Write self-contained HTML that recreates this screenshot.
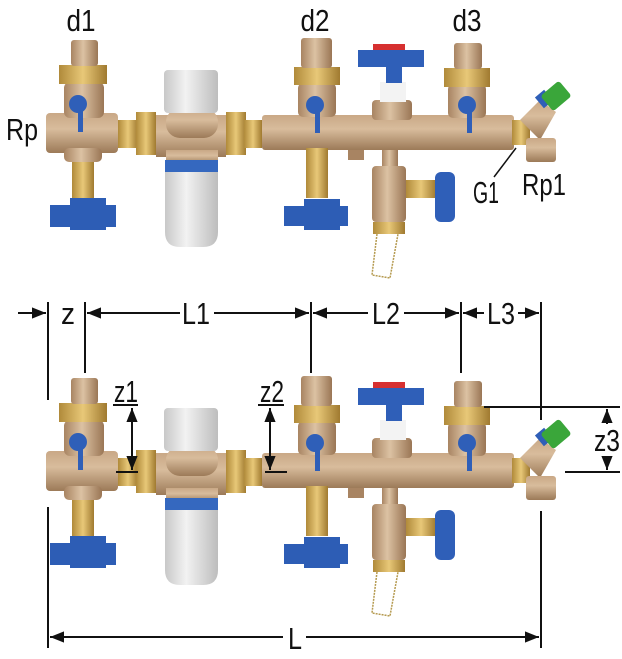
<!DOCTYPE html>
<html><head><meta charset="utf-8"><style>
html,body{margin:0;padding:0;background:#fff;width:622px;height:659px;overflow:hidden}
svg{display:block}
text{font-family:"Liberation Sans Narrow","Liberation Sans",sans-serif;fill:#111}
</style></head><body>
<svg width="622" height="659" viewBox="0 0 622 659" xmlns="http://www.w3.org/2000/svg">
<defs>
<linearGradient id="br" x1="0" y1="0" x2="0" y2="1"><stop offset="0" stop-color="#c9a886"/><stop offset=".4" stop-color="#d8bc9c"/><stop offset="1" stop-color="#9c7a58"/></linearGradient>
<linearGradient id="brv" x1="0" y1="0" x2="1" y2="0"><stop offset="0" stop-color="#a88462"/><stop offset=".45" stop-color="#dcc2a3"/><stop offset="1" stop-color="#9a7655"/></linearGradient>
<linearGradient id="gold" x1="0" y1="0" x2="1" y2="0"><stop offset="0" stop-color="#b08a3a"/><stop offset=".5" stop-color="#e8c878"/><stop offset="1" stop-color="#a07a30"/></linearGradient>
<linearGradient id="wh" x1="0" y1="0" x2="1" y2="0"><stop offset="0" stop-color="#c8c8c8"/><stop offset=".4" stop-color="#f2f2f2"/><stop offset="1" stop-color="#bdbdbd"/></linearGradient>
<marker id="a" viewBox="0 0 10 10" refX="10" refY="5" markerWidth="7" markerHeight="7" orient="auto-start-reverse"><path d="M0,1 L10,5 L0,9 z" fill="#111"/></marker>
<g id="asm">
 <rect x="72" y="155" width="22" height="45" fill="url(#gold)"/>
 <path d="M50 205 h20 v-7 h36 v7 h10 v22 h-10 v3 h-36 v-3 h-20z" fill="#2d5db5"/>
 <rect x="46" y="113" width="72" height="40" rx="4" fill="url(#br)"/>
 <rect x="64" y="82" width="40" height="36" rx="6" fill="url(#brv)"/>
 <rect x="64" y="148" width="38" height="14" rx="5" fill="url(#brv)"/>
 <rect x="59" y="65" width="48" height="19" fill="url(#gold)"/>
 <rect x="71" y="40" width="27" height="26" rx="3" fill="url(#brv)"/>
 <circle cx="78" cy="104" r="9" fill="#2f5fb8"/><rect x="78" y="110" width="5" height="22" fill="#2f5fb8"/>
 <rect x="118" y="120" width="20" height="28" fill="url(#gold)"/>
 <rect x="136" y="112" width="20" height="43" fill="url(#gold)"/>
 <rect x="156" y="115" width="70" height="42" fill="url(#br)"/>
 <rect x="166" y="108" width="52" height="30" rx="14" fill="url(#br)"/>
 <rect x="164" y="70" width="54" height="43" rx="4" fill="url(#wh)"/>
 <rect x="166" y="150" width="52" height="14" fill="url(#br)"/>
 <rect x="165" y="160" width="53" height="12" fill="#3568bf"/>
 <path d="M165 172 h53 v60 q0 15 -15 15 h-23 q-15 0 -15 -15z" fill="url(#wh)"/>
 <rect x="226" y="112" width="20" height="43" fill="url(#gold)"/>
 <rect x="244" y="120" width="18" height="28" fill="url(#gold)"/>
 <rect x="262" y="115" width="252" height="35" rx="3" fill="url(#br)"/>
 <rect x="348" y="150" width="16" height="10" fill="#a88462"/>
 <rect x="306" y="148" width="22" height="50" fill="url(#gold)"/>
 <path d="M284 206 h20 v-7 h36 v7 h8 v20 h-8 v4 h-36 v-4 h-20z" fill="#2d5db5"/>
 <rect x="298" y="83" width="38" height="34" rx="5" fill="url(#brv)"/>
 <rect x="294" y="67" width="46" height="18" fill="url(#gold)"/>
 <rect x="301" y="38" width="31" height="30" rx="3" fill="url(#brv)"/>
 <circle cx="315" cy="105" r="9" fill="#2f5fb8"/><rect x="315" y="111" width="5" height="22" fill="#2f5fb8"/>
 <rect x="372" y="100" width="40" height="20" rx="4" fill="url(#brv)"/>
 <rect x="380" y="82" width="26" height="20" fill="#f3f3f3"/>
 <rect x="386" y="65" width="16" height="18" fill="#2f5fb8"/>
 <rect x="373" y="44" width="32" height="6" fill="#d63030"/>
 <path d="M358 50 h66 v17 h-66z" fill="#2f5fb8"/>
 <rect x="382" y="150" width="16" height="18" fill="url(#brv)"/>
 <rect x="372" y="166" width="34" height="56" rx="4" fill="url(#brv)"/>
 <rect x="406" y="180" width="30" height="18" fill="url(#gold)"/>
 <rect x="435" y="172" width="20" height="50" rx="6" fill="#2f5fb8"/>
 <rect x="373" y="222" width="32" height="12" fill="url(#gold)"/>
 <path d="M377 234 L372 275 L390 278 L398 234" fill="none" stroke="#b59a50" stroke-width="1.5" stroke-dasharray="2 1"/>
 <rect x="448" y="84" width="38" height="34" rx="5" fill="url(#brv)"/>
 <rect x="444" y="68" width="46" height="19" fill="url(#gold)"/>
 <rect x="454" y="43" width="28" height="26" rx="3" fill="url(#brv)"/>
 <circle cx="467" cy="105" r="9" fill="#2f5fb8"/><rect x="467" y="111" width="5" height="22" fill="#2f5fb8"/>
 <rect x="512" y="120" width="18" height="25" fill="url(#gold)"/>
 <path d="M520 120 L540 100 L556 112 L540 140z" fill="url(#br)"/>
 <rect x="526" y="138" width="30" height="24" rx="3" fill="url(#br)"/>
 <rect x="538" y="92" width="12" height="14" fill="#2f5fb8" transform="rotate(-40 544 99)"/>
 <rect x="544" y="86" width="24" height="20" rx="3" fill="#3aa63a" transform="rotate(-40 556 96)"/>
</g>
</defs>

<use href="#asm"/>
<use href="#asm" y="338"/>

<g font-size="31" text-anchor="middle" lengthAdjust="spacingAndGlyphs">
<text x="81" y="31" textLength="29" lengthAdjust="spacingAndGlyphs">d1</text>
<text x="315" y="31" textLength="29" lengthAdjust="spacingAndGlyphs">d2</text>
<text x="467" y="31" textLength="29" lengthAdjust="spacingAndGlyphs">d3</text>
<text x="22" y="140" textLength="32" lengthAdjust="spacingAndGlyphs">Rp</text>
<text x="486" y="203" textLength="26" lengthAdjust="spacingAndGlyphs">G1</text>
<text x="544" y="195" textLength="44" lengthAdjust="spacingAndGlyphs">Rp1</text>
</g>
<line x1="494" y1="177" x2="516" y2="148" stroke="#111" stroke-width="1.5"/>

<g stroke="#111" stroke-width="2" fill="none">
<line x1="48" y1="302" x2="48" y2="400"/>
<line x1="85" y1="302" x2="85" y2="373"/>
<line x1="311" y1="302" x2="311" y2="373"/>
<line x1="461" y1="302" x2="461" y2="373"/>
<line x1="541" y1="302" x2="541" y2="420"/>
<line x1="18" y1="313" x2="46" y2="313" marker-end="url(#a)"/>
<line x1="87" y1="313" x2="180" y2="313" marker-start="url(#a)"/>
<line x1="214" y1="313" x2="309" y2="313" marker-end="url(#a)"/>
<line x1="313" y1="313" x2="368" y2="313" marker-start="url(#a)"/>
<line x1="404" y1="313" x2="459" y2="313" marker-end="url(#a)"/>
<line x1="463" y1="313" x2="484" y2="313" marker-start="url(#a)"/>
<line x1="518" y1="313" x2="539" y2="313" marker-end="url(#a)"/>
<line x1="113" y1="405" x2="138" y2="405"/>
<line x1="132" y1="408" x2="132" y2="470" marker-start="url(#a)" marker-end="url(#a)"/>
<line x1="116" y1="472" x2="138" y2="472"/>
<line x1="258" y1="405" x2="284" y2="405"/>
<line x1="270" y1="408" x2="270" y2="470" marker-start="url(#a)" marker-end="url(#a)"/>
<line x1="265" y1="472" x2="287" y2="472"/>
<line x1="484" y1="407" x2="620" y2="407"/>
<line x1="565" y1="472" x2="620" y2="472"/>
<line x1="607" y1="409" x2="607" y2="424" marker-start="url(#a)"/>
<line x1="607" y1="456" x2="607" y2="470" marker-end="url(#a)"/>
<line x1="48" y1="507" x2="48" y2="648"/>
<line x1="541" y1="511" x2="541" y2="648"/>
<line x1="50" y1="637" x2="283" y2="637" marker-start="url(#a)"/>
<line x1="306" y1="637" x2="539" y2="637" marker-end="url(#a)"/>
</g>
<g font-size="31" text-anchor="middle">
<text x="68" y="324" textLength="14" lengthAdjust="spacingAndGlyphs">z</text>
<text x="196" y="324" textLength="28" lengthAdjust="spacingAndGlyphs">L1</text>
<text x="386" y="324" textLength="28" lengthAdjust="spacingAndGlyphs">L2</text>
<text x="501" y="324" textLength="28" lengthAdjust="spacingAndGlyphs">L3</text>
<text x="126" y="402" textLength="24" lengthAdjust="spacingAndGlyphs">z1</text>
<text x="272" y="402" textLength="24" lengthAdjust="spacingAndGlyphs">z2</text>
<text x="607" y="451" textLength="26" lengthAdjust="spacingAndGlyphs">z3</text>
<text x="295" y="649" textLength="14" lengthAdjust="spacingAndGlyphs">L</text>
</g>
</svg>
</body></html>
